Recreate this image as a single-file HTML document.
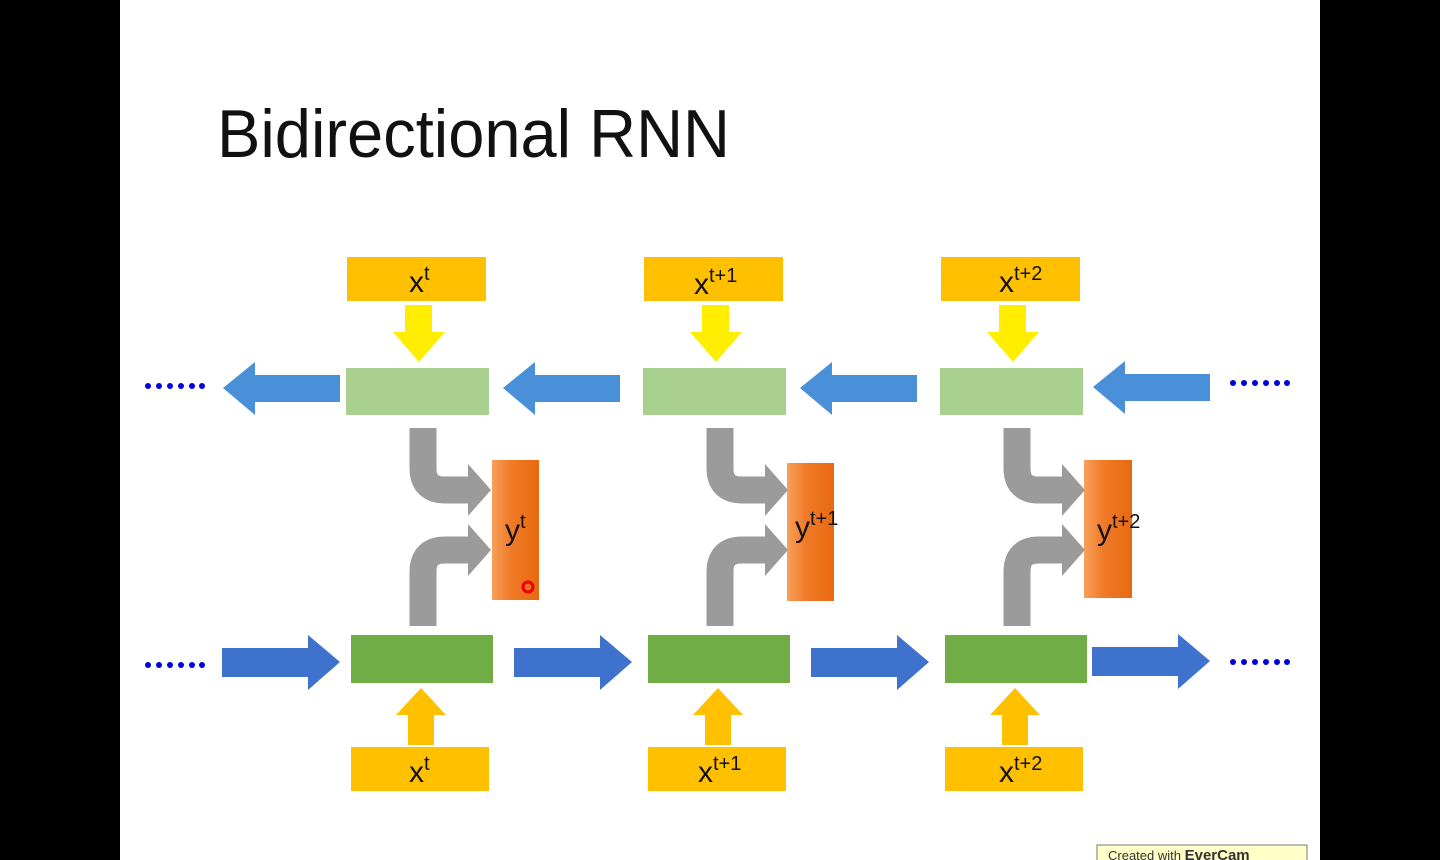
<!DOCTYPE html>
<html><head><meta charset="utf-8"><style>
html,body{margin:0;padding:0;background:#000;}
svg{display:block;}
text{font-family:"Liberation Sans",sans-serif;}
</style></head><body>
<svg width="1440" height="860" viewBox="0 0 1440 860" xmlns="http://www.w3.org/2000/svg">
<defs>
<linearGradient id="og" x1="0" x2="1" y1="0" y2="0"><stop offset="0" stop-color="#f7a05a"/><stop offset="0.4" stop-color="#f07a28"/><stop offset="1" stop-color="#e86a10"/></linearGradient>
<g id="col">
  <!-- top input box -->
  <rect x="347" y="257" width="139" height="44" fill="#ffc000"/>
  <!-- yellow down arrow -->
  <polygon points="405,305 432,305 432,332 445,332 419,362 393,332 405,332" fill="#ffee00"/>
  <!-- top green -->
  <rect x="346" y="368" width="143" height="47" fill="#a9d08e"/>
  <!-- gray arrows -->
  <path d="M423 428 V468 Q423 490 445 490 H470" fill="none" stroke="#9b9b9b" stroke-width="27"/>
  <polygon points="468,464 491,490 468,516" fill="#9b9b9b"/>
  <path d="M423 626 V572 Q423 550 445 550 H470" fill="none" stroke="#9b9b9b" stroke-width="27"/>
  <polygon points="468,524 491,550 468,576" fill="#9b9b9b"/>
  <!-- bottom green -->
  <rect x="351" y="635" width="142" height="48" fill="#70ad47"/>
  <!-- orange up arrow -->
  <polygon points="421,688 446,715 434,715 434,745 408,745 408,715 396,715" fill="#ffc000"/>
  <!-- bottom input box -->
  <rect x="351" y="747" width="138" height="44" fill="#ffc000"/>
</g>
<polygon id="la" points="223,388 255,362 255,375 340,375 340,402 255,402 255,415" fill="#4a90d9"/>
<polygon id="ra" points="340,662 308,635 308,648 222,648 222,677 308,677 308,690" fill="#3f72cc"/>
</defs>
<rect x="120" y="0" width="1200" height="860" fill="#fff"/>
<text x="217" y="157" font-size="68" textLength="513" lengthAdjust="spacingAndGlyphs" fill="#111">Bidirectional RNN</text>

<use href="#col"/>
<use href="#col" transform="translate(297,0)"/>
<use href="#col" transform="translate(594,0)"/>

<use href="#la"/>
<use href="#la" transform="translate(280,0)"/>
<use href="#la" transform="translate(577,0)"/>
<use href="#la" transform="translate(870,-1)"/>
<use href="#ra"/>
<use href="#ra" transform="translate(292,0)"/>
<use href="#ra" transform="translate(589,0)"/>
<use href="#ra" transform="translate(870,-1)"/>

<!-- y boxes -->
<rect x="492" y="460" width="47" height="140" fill="url(#og)"/>
<rect x="787" y="463" width="47" height="138" fill="url(#og)"/>
<rect x="1084" y="460" width="48" height="138" fill="url(#og)"/>
<circle cx="528" cy="587" r="5" fill="none" stroke="#e00" stroke-width="3"/>

<g font-size="30" fill="#111">
<text x="409" y="292">x<tspan font-size="20" dy="-12">t</tspan></text>
<text x="694" y="294">x<tspan font-size="20" dy="-12">t+1</tspan></text>
<text x="999" y="292">x<tspan font-size="20" dy="-12">t+2</tspan></text>
<text x="409" y="782">x<tspan font-size="20" dy="-12">t</tspan></text>
<text x="698" y="782">x<tspan font-size="20" dy="-12">t+1</tspan></text>
<text x="999" y="782">x<tspan font-size="20" dy="-12">t+2</tspan></text>
<text x="505" y="540">y<tspan font-size="20" dy="-12">t</tspan></text>
<text x="795" y="537">y<tspan font-size="20" dy="-12">t+1</tspan></text>
<text x="1097" y="540">y<tspan font-size="20" dy="-12">t+2</tspan></text>
</g>

<g fill="#0000dd">
<g id="dots"><circle cx="148" cy="386" r="3"/><circle cx="159" cy="386" r="3"/><circle cx="170" cy="386" r="3"/><circle cx="181" cy="386" r="3"/><circle cx="192" cy="386" r="3"/><circle cx="202" cy="386" r="3"/></g>
<use href="#dots" transform="translate(0,279)"/>
<use href="#dots" transform="translate(1085,-3)"/>
<use href="#dots" transform="translate(1085,276)"/>
</g>

<rect x="1097" y="845" width="210" height="20" fill="#ffffc8" stroke="#777"/>
<text x="1108" y="860" font-size="13" fill="#333">Created with <tspan font-weight="bold" font-size="15">EverCam</tspan></text>
</svg>
</body></html>
